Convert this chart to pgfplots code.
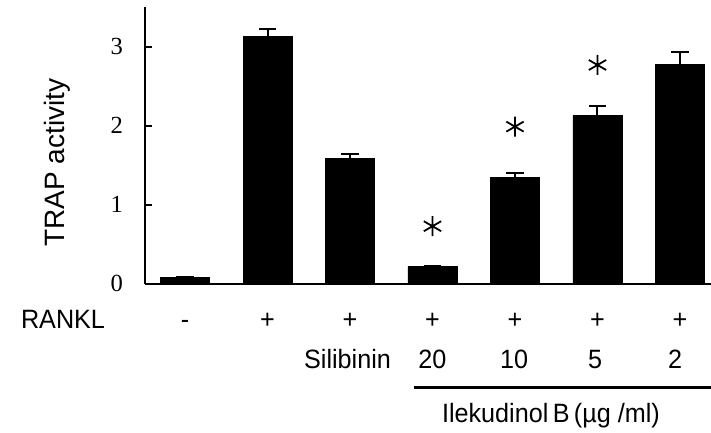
\documentclass[border=0pt]{standalone}
\usepackage{fontspec}
\setmainfont{Liberation Serif}
\setsansfont{Liberation Sans}
\newfontfamily\condsans[FakeStretch=0.95]{Liberation Sans}
\usepackage{pgfplots}
\pgfplotsset{compat=1.18}
\begin{document}
\begin{tikzpicture}
\path[use as bounding box] (-72.5pt,-74.5pt) rectangle (283pt,141.95pt);
\begin{axis}[
  at={(0,0)}, anchor=south west,
  scale only axis,
  width=283pt, height=138.3pt,
  xmin=-0.485, xmax=6.376,
  ymin=0, ymax=3.5,
  axis lines=left,
  axis line style={line width=1pt, -},
  clip=false,
  xtick={0,1,2,3,4,5,6},
  xticklabels={-,+,+,+,+,+,+},
  x tick style={draw=none},
  xticklabel style={anchor=base, yshift=-22.5pt, font=\condsans\fontsize{13.25}{15}\selectfont},
  ytick={0,1,2,3},
  y tick style={line width=1pt, black},
  tick align=inside,
  major tick length=3.5pt,
  yticklabel style={font=\rmfamily\fontsize{12.3}{14}\selectfont, xshift=-7.5pt},
  /pgf/number format/assume math mode=true,
  ylabel={TRAP activity},
  ylabel style={at={(axis description cs:-0.1555,0.438)}, anchor=center, rotate=0, font=\sffamily\fontsize{14}{16}\selectfont},
]
\addplot[ybar, bar width=24.5pt, fill=black, draw=black,
  error bars/.cd, y dir=plus, y explicit,
  error bar style={line width=1pt, black},
  error mark options={rotate=90, mark size=4.3pt, line width=1pt, black}]
coordinates {
  (0,0.08) +- (0,0.005)
  (1,3.13) +- (0,0.10)
  (2,1.59) +- (0,0.05)
  (3,0.22) +- (0,0.01)
  (4,1.35) +- (0,0.05)
  (5,2.13) +- (0,0.12)
  (6,2.78) +- (0,0.15)
};
\addplot[only marks, mark=asterisk, mark size=5pt, line width=0.9pt, black, mark options={solid}]
coordinates {(3,0.73) (4,1.99) (5,2.77)};
\node[anchor=base west, font=\condsans\fontsize{13.25}{15}\selectfont] at (axis cs:-2.073,-0.570) {RANKL};
\node[anchor=base, font=\condsans\fontsize{13.25}{15}\selectfont] at (axis cs:1.97,-1.076) {Silibinin};
\node[anchor=base, font=\condsans\fontsize{13.25}{15}\selectfont] at (axis cs:3,-1.076) {20};
\node[anchor=base, font=\condsans\fontsize{13.25}{15}\selectfont] at (axis cs:3.99,-1.076) {10};
\node[anchor=base, font=\condsans\fontsize{13.25}{15}\selectfont] at (axis cs:4.97,-1.076) {5};
\node[anchor=base, font=\condsans\fontsize{13.25}{15}\selectfont] at (axis cs:5.94,-1.076) {2};
\draw[line width=1.5pt] (axis cs:2.776,-1.316) -- (axis cs:6.376,-1.316);
\node[anchor=base, font=\condsans\fontsize{13.25}{15}\selectfont] at (axis cs:4.436,-1.759) {Ilekudinol\,B\,(µg /ml)};
\end{axis}
\end{tikzpicture}
\end{document}
